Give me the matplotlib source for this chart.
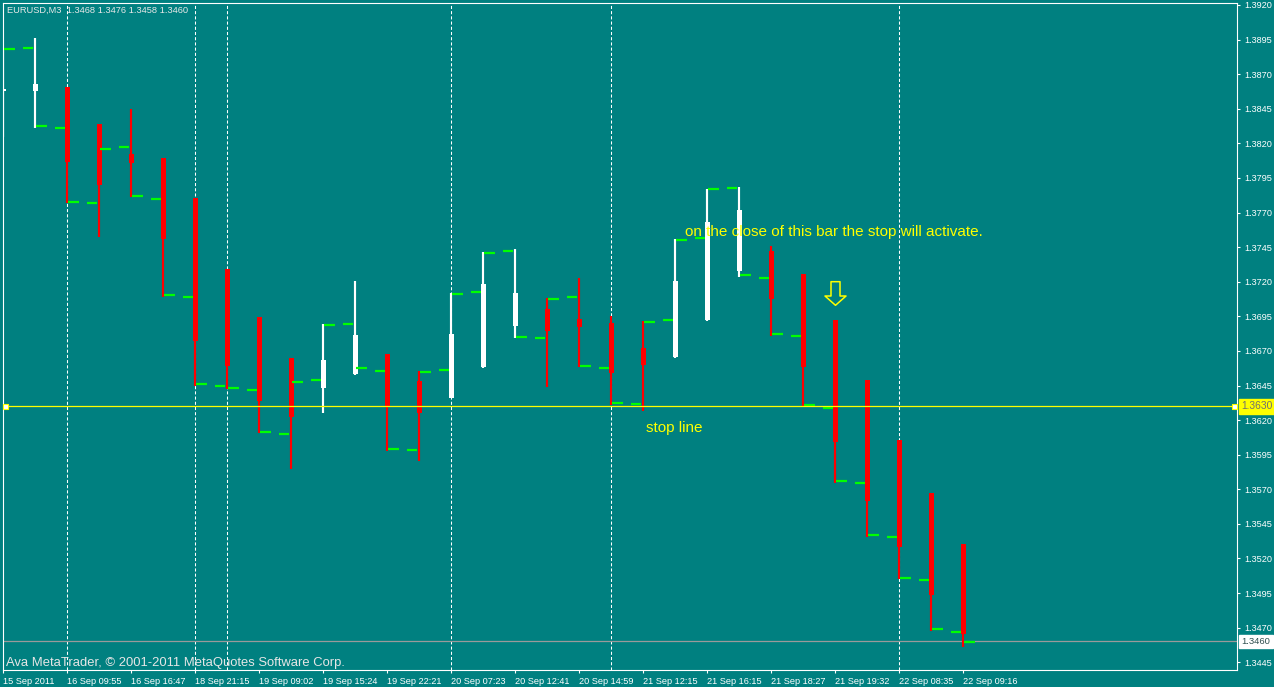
import numpy as np
import matplotlib
matplotlib.use("Agg")
import matplotlib.pyplot as plt
import matplotlib.transforms as mtransforms
from matplotlib.path import Path

# EURUSD M3 bars (offline chart)
opens = np.array([1.38575, 1.38581, 1.38605, 1.38340, 1.38123, 1.38094, 1.37807, 1.37290,
                  1.36943, 1.36651, 1.36434, 1.36533, 1.36680, 1.36482, 1.36362, 1.36586,
                  1.36882, 1.37003, 1.36931, 1.36899, 1.36721, 1.36656, 1.36923, 1.37280,
                  1.37422, 1.37256, 1.36923, 1.36490, 1.36056, 1.35671, 1.35304])
highs = np.array([1.38887, 1.38959, 1.38605, 1.38340, 1.38448, 1.38094, 1.37807, 1.37290,
                  1.36943, 1.36651, 1.36894, 1.37205, 1.36680, 1.36555, 1.37116, 1.37413,
                  1.37434, 1.37082, 1.37227, 1.36952, 1.36916, 1.37507, 1.37872, 1.37882,
                  1.37458, 1.37256, 1.36923, 1.36490, 1.36056, 1.35671, 1.35304])
lows = np.array([1.38248, 1.38313, 1.37767, 1.37525, 1.37810, 1.37092, 1.36449, 1.36422,
                 1.36104, 1.35844, 1.36253, 1.36526, 1.35979, 1.35906, 1.36357, 1.36579,
                 1.36791, 1.36441, 1.36581, 1.36309, 1.36266, 1.36651, 1.36918, 1.37236,
                 1.36810, 1.36292, 1.35747, 1.35357, 1.35049, 1.34678, 1.34562])
closes = np.array([1.38593, 1.38629, 1.38067, 1.37899, 1.38056, 1.37509, 1.36774, 1.36593,
                   1.36338, 1.36224, 1.36634, 1.36815, 1.36297, 1.36249, 1.36820, 1.37184,
                   1.37118, 1.36846, 1.36875, 1.36542, 1.36598, 1.37205, 1.37629, 1.37718,
                   1.37075, 1.36586, 1.36044, 1.35617, 1.35285, 1.34934, 1.34652])

# green indicator dashes: one just left of each bar, one just right of it
dash_left = np.array([np.nan, 1.38891, 1.38313, 1.37771, 1.38176, 1.37800, 1.37090, 1.36449,
                      1.36417, 1.36099, 1.36490, 1.36894, 1.36557, 1.35984, 1.36562, 1.37126,
                      1.37422, 1.36795, 1.37092, 1.36579, 1.36318, 1.36923, 1.37516, 1.37879,
                      1.37227, 1.36810, 1.36289, 1.35747, 1.35357, 1.35046, 1.34671])
dash_right = np.array([1.38884, 1.38325, 1.37778, 1.38161, 1.37822, 1.37104, 1.36461, 1.36432,
                       1.36114, 1.36475, 1.36887, 1.36579, 1.35991, 1.36548, 1.37113, 1.37410,
                       1.36800, 1.37077, 1.36593, 1.36326, 1.36911, 1.37502, 1.37870, 1.37249,
                       1.36824, 1.36307, 1.35762, 1.35372, 1.35061, 1.34692, 1.34598])

time_labels = ["15 Sep 2011", "16 Sep 09:55", "16 Sep 16:47", "18 Sep 21:15", "19 Sep 09:02",
               "19 Sep 15:24", "19 Sep 22:21", "20 Sep 07:23", "20 Sep 12:41", "20 Sep 14:59",
               "21 Sep 12:15", "21 Sep 16:15", "21 Sep 18:27", "21 Sep 19:32", "22 Sep 08:35",
               "22 Sep 09:16"]
separators = [2, 6, 7, 14, 19, 28]   # day breaks
price_ticks = np.round(np.arange(1.3445, 1.39201, 0.0025), 4)

stop_price = 1.3630
bid_price = 1.3460
header = "EURUSD,M3  1.3468 1.3476 1.3458 1.3460"
copyright_txt = "Ava MetaTrader, \u00a9 2001-2011 MetaQuotes Software Corp."
note_txt = "on the close of this bar the stop will activate."
note_pos = (21.30, 1.37533)
stop_txt_pos = (20.09, 1.36112)
arrow_pos = (26, 1.37122)

BG = "#008080"
FONT = "Liberation Sans"
W, H = 1274, 687
px = 1.0 / 32   # one pixel in bar units (32 px per bar)

fig = plt.figure(figsize=(W / 100, H / 100), dpi=100)
fig.patch.set_facecolor(BG)
ax = fig.add_axes([2.5 / W, 1 - 670 / H, (1237 - 2.5) / W, (670 - 2.5) / H])
ax.set_facecolor(BG)
ax.set_xlim(-0.5 * px, (1237 - 3) * px)
ax.set_ylim(1.34394, 1.39218)

for s in ax.spines.values():
    s.set_color("white")
    s.set_linewidth(0.8)

# period separators
for i in separators:
    ax.axvline(i, color="white", lw=0.75, ls=(0, (3, 2)), zorder=1)

# bid line
ax.axhline(bid_price, color="#9a9a9a", lw=0.9, zorder=1)

# candles
x = np.arange(len(opens))
cols = np.where(closes >= opens, "white", "#ff0000")
ax.vlines(x + 0.3 * px, lows, highs, colors=cols, lw=1.55, zorder=3)
ax.bar(x + 0.6 * px, np.abs(closes - opens), bottom=np.minimum(opens, closes),
       width=5.4 * px, color=cols, linewidth=0, zorder=3)

# indicator dashes
g = "#00ff00"
m = ~np.isnan(dash_left)
ax.hlines(dash_left[m], x[m] - 12 * px, x[m] - 2 * px, colors=g, lw=1.6, zorder=4)
ax.hlines(dash_right, x + 1 * px, x + 12 * px, colors=g, lw=1.6, zorder=4)

# stop line with its end anchors
ax.axhline(stop_price, color="#ffff00", lw=0.9, zorder=5)
ax.plot([2 * px, 1230.5 * px], [stop_price, stop_price], "s", ms=3.6, mfc="white",
        mec="#ffff00", mew=0.8, zorder=6, clip_on=False)

# hollow down arrow
arrow = Path([(-4.5, 11.8), (4.5, 11.8), (4.5, -2.5), (10.5, -2.5), (0, -11.8),
              (-10.5, -2.5), (-4.5, -2.5), (-4.5, 11.8)], closed=True)
ax.plot([arrow_pos[0]], [arrow_pos[1]], marker=arrow, ms=17, mfc="none",
        mec="#ffff00", mew=1.1, zorder=6)

ax.text(*note_pos, note_txt, color="#ffff00", fontsize=11, family=FONT,
        va="baseline", ha="left", zorder=7)
ax.text(*stop_txt_pos, "stop line", color="#ffff00", fontsize=11, family=FONT,
        va="baseline", ha="left", zorder=7)

# axes ticks
ax.yaxis.tick_right()
ax.set_yticks(price_ticks)
ax.set_yticklabels([f"{v:.4f}" for v in price_ticks])
ax.set_xticks(np.arange(0, 31, 2))
ax.set_xticklabels(time_labels)
for lab in ax.get_xticklabels():
    lab.set_ha("left")
ax.tick_params(axis="both", colors="white", length=2.5, width=0.8, labelsize=6.6,
               direction="out")
ax.tick_params(axis="y", pad=2.5)
ax.tick_params(axis="x", pad=2.5)
for lab in ax.get_xticklabels() + ax.get_yticklabels():
    lab.set_family(FONT)

# price labels on the right scale
tr = mtransforms.blended_transform_factory(ax.transAxes, ax.transData)
ax.text(1.0035, stop_price, "1.3630", transform=tr, fontsize=7.4, family=FONT,
        color="#707070", va="center", ha="left", zorder=8,
        bbox=dict(boxstyle="square,pad=0.25", fc="#ffff00", ec="#ffff00"))
ax.text(1.0035, bid_price, "1.3460", transform=tr, fontsize=6.8, family=FONT,
        color="#2f4f4f", va="center", ha="left", zorder=8,
        bbox=dict(boxstyle="square,pad=0.25", fc="white", ec="white"))

fig.text(7 / W, 1 - 10.5 / H, header, color="#e8e8e8", fontsize=6.7, family=FONT,
         va="center", ha="left")
fig.text(6.5 / W, 1 - 663 / H, copyright_txt, color="#e6e6e6", fontsize=9.35, family=FONT,
         va="center", ha="left")

fig.savefig("out.png", dpi=100, facecolor=BG)
